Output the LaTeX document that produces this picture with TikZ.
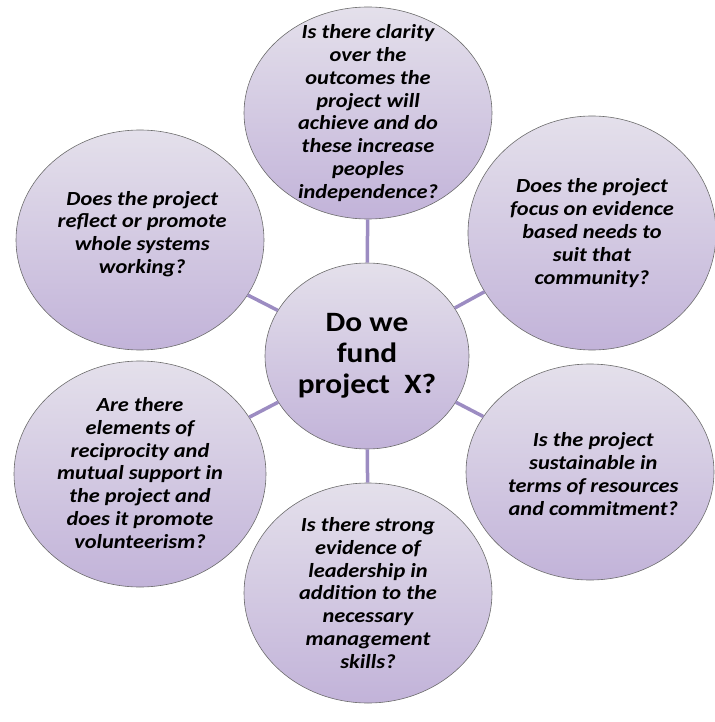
\documentclass[tikz,border=0pt]{standalone}
\usepackage{fontspec}
\setmainfont{Carlito}
\usetikzlibrary{shapes.geometric}

\definecolor{bubbletop}{HTML}{E4E0EB}
\definecolor{bubblebot}{HTML}{C2B3D9}
\definecolor{spokecol}{HTML}{9C8CC2}

\begin{document}
\begin{tikzpicture}[x=1pt,y=-1pt,
    bubble/.style={ellipse, draw=gray!85!black, line width=.6pt,
        top color=bubbletop, bottom color=bubblebot, inner sep=0pt,
        minimum width=248, minimum height=220},
    asktext/.style={align=center, xscale=1.12, font=\fontsize{20}{22.8}\selectfont\bfseries\itshape},
    hubtext/.style={align=center, xscale=1.12, font=\fontsize{28}{31}\selectfont\bfseries},
    spoke/.style={draw=spokecol, line width=3.5pt}]
  \useasboundingbox (0,0) rectangle (714,722);

  % the question in the middle
  \node[bubble, minimum width=204, minimum height=186,
        label={[hubtext]center:{Do we\\fund\\project\ \ X?}}] (hub) at (367,356) {};

  % the six questions round it
  \node[bubble, minimum height=212,
        label={[asktext]center:{Is there clarity\\over the\\outcomes the\\project will\\achieve and do\\these increase\\peoples\\independence?}}]
        (clarity) at (368,113) {};
  \node[bubble, label={[asktext, xshift=2, yshift=6]center:{Does the project\\reflect or promote\\whole systems\\working?}}]
        (systems) at (140,240) {};
  \node[bubble, minimum height=234, label={[asktext]center:{Does the project\\focus on evidence\\based needs to\\suit that\\community?}}]
        (evidence) at (592,233) {};
  \node[bubble, minimum height=216, label={[asktext, xshift=3, yshift=-2]center:{Is the project\\sustainable in\\terms of resources\\and commitment?}}]
        (sustain) at (590,472) {};
  \node[bubble, label={[asktext]center:{Is there strong\\evidence of\\leadership in\\addition to the\\necessary\\management\\skills?}}]
        (leader) at (368,593) {};
  \node[bubble, minimum width=252, minimum height=226,
        label={[asktext, yshift=1]center:{Are there\\elements of\\reciprocity and\\mutual support in\\the project and\\does it promote\\volunteerism?}}]
        (mutual) at (140,474) {};

  % spokes
  \foreach \q in {clarity,systems,evidence,sustain,leader,mutual}
    \draw[spoke] (hub) -- (\q);
\end{tikzpicture}
\end{document}
